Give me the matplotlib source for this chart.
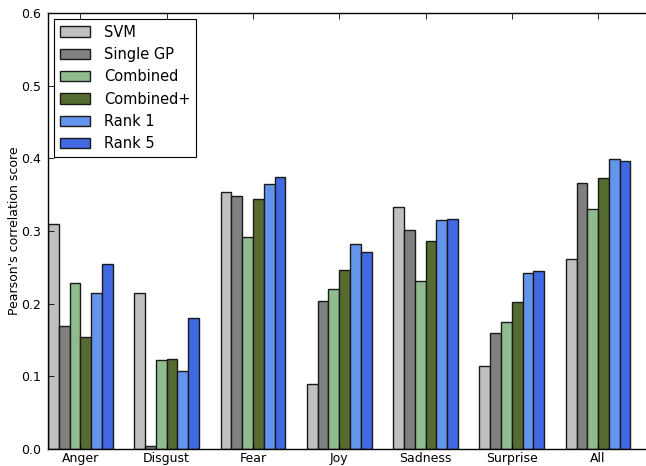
import matplotlib
matplotlib.use("Agg")
import matplotlib.pyplot as plt
import numpy as np

categories = ["Anger", "Disgust", "Fear", "Joy", "Sadness", "Surprise", "All"]
series_names = ["SVM", "Single GP", "Combined", "Combined+", "Rank 1", "Rank 5"]
svm = [0.309, 0.214, 0.354, 0.090, 0.333, 0.114, 0.261]
single_gp = [0.169, 0.004, 0.348, 0.203, 0.302, 0.160, 0.366]
combined = [0.229, 0.123, 0.292, 0.220, 0.231, 0.175, 0.330]
combined_plus = [0.154, 0.124, 0.344, 0.247, 0.286, 0.202, 0.373]
rank1 = [0.214, 0.107, 0.364, 0.282, 0.315, 0.242, 0.399]
rank5 = [0.254, 0.180, 0.374, 0.271, 0.317, 0.245, 0.397]
yticks = [0.0, 0.1, 0.2, 0.3, 0.4, 0.5, 0.6]

series = [svm, single_gp, combined, combined_plus, rank1, rank5]
colors = ["#C0C0C0", "#808080", "#8FBC8F", "#556B2F", "#6495ED", "#4169E1"]

fig = plt.figure(figsize=(6.46, 4.66), dpi=100)
ax = fig.add_axes([48/646, 1-449/466, (652-48)/646, (449-13)/466])

ind = np.arange(len(categories))
width = 0.125
for i, (vals, name, c) in enumerate(zip(series, series_names, colors)):
    ax.bar(ind + i*width, vals, width, align="edge", color=c, edgecolor="#1a1a1a",
           linewidth=1.0, label=name)

ax.set_xlim(0, 7)
ax.set_ylim(0, 0.6)
ax.set_xticks(ind + 3*width)
ax.set_xticklabels(categories, fontsize=9)
ax.set_yticks(yticks)
ax.set_yticklabels([f"{t:.1f}" for t in yticks], fontsize=9)
ax.set_ylabel("Pearson's correlation score", fontsize=9, labelpad=0)
ax.tick_params(direction="in", top=True, right=True, length=4, width=0.6)
ax.tick_params(axis="x", pad=2)
ax.tick_params(axis="y", pad=5)
for s in ax.spines.values():
    s.set_linewidth(1.0)
leg = ax.legend(loc="upper left", fontsize=10.5, fancybox=False, framealpha=1,
                edgecolor="black", labelspacing=0.5, handlelength=2.1,
                handletextpad=0.95, borderaxespad=0.4, borderpad=0.4)
leg.get_frame().set_linewidth(0.8)

fig.savefig("out.png", dpi=100, facecolor="white")
